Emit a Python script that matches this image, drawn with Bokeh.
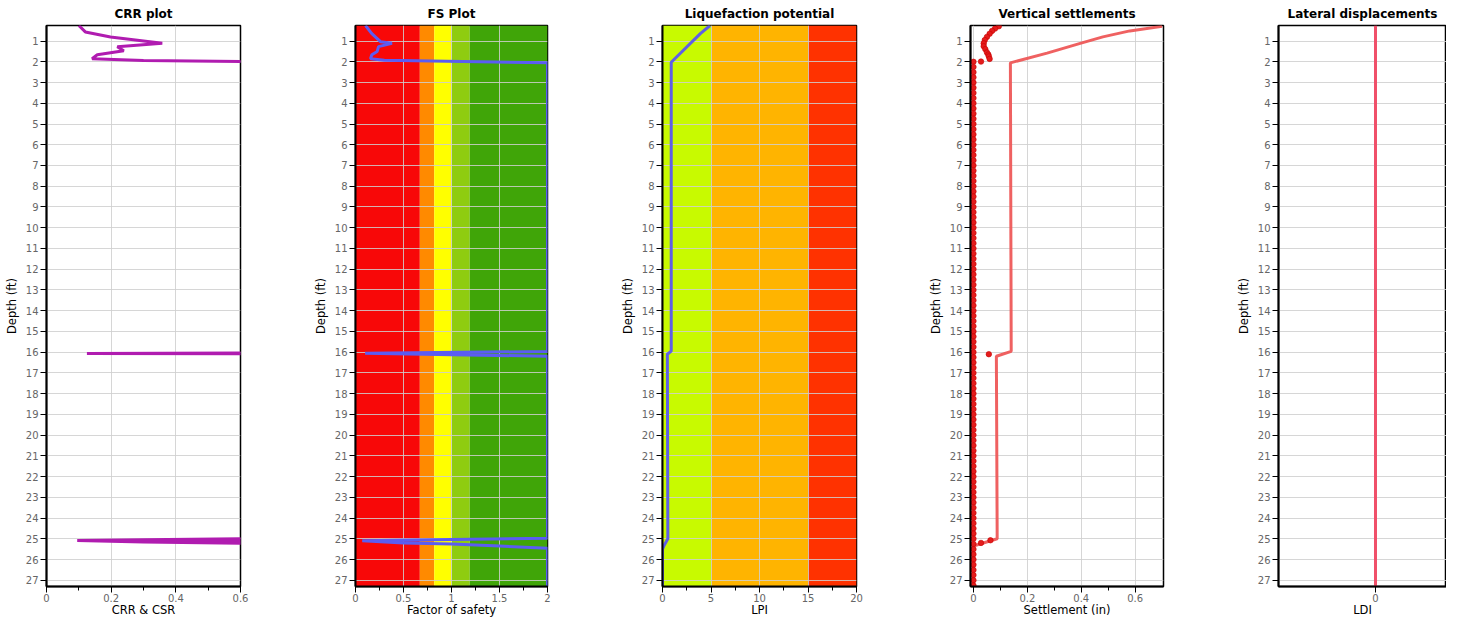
from bokeh.plotting import figure
from bokeh.layouts import row
from bokeh.models import Range1d, FixedTicker, CustomJSTickFormatter
from bokeh.embed import file_html
from bokeh.resources import INLINE

# ---------------- data ----------------
depth_ticks = list(range(1, 28))
depth_top = 0.25
depth_bottom = 27.3

# CRR plot
crr_depth = [0.25, 0.56, 0.80, 1.11, 1.27, 1.47, 1.66, 1.85, 1.94, 1.98, 2.05,
             15.98, 16.06, 16.12,
             24.98, 25.0, 25.04, 25.08, 25.15, 25.22, 25.27, 25.14, 25.1, 25.3, 27.3]
crr_value = [0.10, 0.12, 0.198, 0.358, 0.219, 0.239, 0.157, 0.141, 0.3, 0.6, 2.0,
             2.0, 0.125, 2.0,
             2.0, 0.6, 0.3, 0.095, 0.3, 0.6, 2.0, 0.35, 2.0, 2.0, 2.0]

# FS plot
fs_depth = [0.25, 0.64, 1.03, 1.11, 1.27, 1.5, 1.66, 1.85, 1.92, 2.05,
            15.97, 16.05, 16.2,
            24.97, 25.03, 25.1, 25.2, 25.25, 25.35, 25.46, 27.3]
fs_value = [0.104, 0.17, 0.26, 0.38, 0.24, 0.226, 0.17, 0.156, 0.3, 2.0,
            2.0, 0.1, 2.0,
            2.0, 1.0, 0.07, 0.5, 1.0, 1.5, 2.0, 2.0]
fs_zone_lo = [0.0, 0.67, 0.82, 1.0, 1.19]
fs_zone_hi = [0.67, 0.82, 1.0, 1.19, 2.0]
fs_zone_color = ["#f80808", "#ff8a00", "#ffff00", "#8fcc10", "#40a508"]

# Liquefaction potential
lpi_depth = [0.25, 0.64, 2.02, 15.95, 16.1, 25.0, 25.33, 25.5, 27.3]
lpi_value = [4.9, 3.9, 0.9, 0.9, 0.5, 0.55, 0.15, 0.0, 0.0]
lpi_zone_lo = [0, 5, 15]
lpi_zone_hi = [5, 15, 20]
lpi_zone_color = ["#c8fa00", "#ffb400", "#ff3200"]

# Vertical settlements (cumulative line)
set_depth = [0.29, 0.51, 0.8, 1.11, 1.58, 2.05, 15.96, 16.2, 25.0, 25.35, 27.3]
set_value = [0.70, 0.58, 0.48, 0.396, 0.273, 0.137, 0.14, 0.085, 0.088, 0.0, 0.0]

# Vertical settlements (per-layer points)
pt_depth = [0.29, 0.4, 0.51, 0.65, 0.8, 0.95, 1.11, 1.25, 1.39, 1.55, 1.65, 1.74, 1.86, 1.99,
            2.0, 2.25, 2.5, 2.75, 3.0, 3.25, 3.5, 3.75, 4.0, 4.25, 4.5, 4.75,
            5.0, 5.25, 5.5, 5.75, 6.0, 6.25, 6.5, 6.75, 7.0, 7.25, 7.5, 7.75,
            8.0, 8.25, 8.5, 8.75, 9.0, 9.25, 9.5, 9.75, 10.0, 10.25, 10.5, 10.75,
            11.0, 11.25, 11.5, 11.75, 12.0, 12.25, 12.5, 12.75, 13.0, 13.25, 13.5, 13.75,
            14.0, 14.25, 14.5, 14.75, 15.0, 15.25, 15.5, 15.75, 16.0, 16.1, 16.25, 16.5, 16.75,
            17.0, 17.25, 17.5, 17.75, 18.0, 18.25, 18.5, 18.75, 19.0, 19.25, 19.5, 19.75,
            20.0, 20.25, 20.5, 20.75, 21.0, 21.25, 21.5, 21.75, 22.0, 22.25, 22.5, 22.75,
            23.0, 23.25, 23.5, 23.75, 24.0, 24.25, 24.5, 24.75, 25.0, 25.07, 25.2, 25.25, 25.5, 25.75,
            26.0, 26.25, 26.5, 26.75, 27.0, 27.25]
pt_value = [0.094, 0.08, 0.069, 0.06, 0.05, 0.042, 0.038, 0.038, 0.044, 0.05, 0.055, 0.057, 0.06, 0.028,
            0.0, 0.0, 0.0, 0.0, 0.0, 0.0, 0.0, 0.0, 0.0, 0.0, 0.0, 0.0,
            0.0, 0.0, 0.0, 0.0, 0.0, 0.0, 0.0, 0.0, 0.0, 0.0, 0.0, 0.0,
            0.0, 0.0, 0.0, 0.0, 0.0, 0.0, 0.0, 0.0, 0.0, 0.0, 0.0, 0.0,
            0.0, 0.0, 0.0, 0.0, 0.0, 0.0, 0.0, 0.0, 0.0, 0.0, 0.0, 0.0,
            0.0, 0.0, 0.0, 0.0, 0.0, 0.0, 0.0, 0.0, 0.0, 0.057, 0.0, 0.0, 0.0,
            0.0, 0.0, 0.0, 0.0, 0.0, 0.0, 0.0, 0.0, 0.0, 0.0, 0.0, 0.0,
            0.0, 0.0, 0.0, 0.0, 0.0, 0.0, 0.0, 0.0, 0.0, 0.0, 0.0, 0.0,
            0.0, 0.0, 0.0, 0.0, 0.0, 0.0, 0.0, 0.0, 0.0, 0.063, 0.028, 0.0, 0.0, 0.0,
            0.0, 0.0, 0.0, 0.0, 0.0, 0.0]

# Lateral displacements
ldi_depth = [0.25, 27.3]
ldi_value = [0.0, 0.0]

FONT = "DejaVu Sans"
fmt = CustomJSTickFormatter(code="return String(Math.round(tick*100)/100);")


def base_fig(title, xlabel, x_start, x_end, ticks, minor, width, border_right, xgrid=True):
    p = figure(width=width, height=619, title=title,
               x_range=Range1d(x_start, x_end),
               y_range=Range1d(depth_bottom, depth_top),
               output_backend="svg", toolbar_location=None,
               min_border_left=46, min_border_right=border_right,
               min_border_top=0, min_border_bottom=0)
    p.title.align = "center"
    p.title.text_font = FONT
    p.title.text_font_size = "12px"
    p.title.text_font_style = "bold"
    p.title.text_color = "black"
    p.title.standoff = 9
    p.outline_line_color = "black"
    p.outline_line_width = 1.5
    p.outline_line_alpha = 1.0
    p.background_fill_color = "white"
    p.border_fill_color = "white"
    for ax in (p.xaxis[0], p.yaxis[0]):
        ax.axis_line_color = "black"
        ax.axis_line_width = 2
        ax.major_tick_line_color = "black"
        ax.minor_tick_line_color = "black"
        ax.major_tick_in = 0
        ax.major_tick_out = 6
        ax.minor_tick_in = 0
        ax.minor_tick_out = 4
        ax.major_label_text_font = FONT
        ax.major_label_text_font_size = "10px"
        ax.major_label_text_color = "#666666"
        ax.axis_label_text_font = FONT
        ax.axis_label_text_font_size = "11.5px"
        ax.axis_label_text_font_style = "normal"
        ax.axis_label_text_color = "black"
    p.yaxis.major_label_standoff = 2
    p.yaxis.axis_label_standoff = 4
    p.xaxis.major_label_standoff = 1
    p.xaxis.axis_label_standoff = -2
    p.yaxis.axis_label = "Depth (ft)"
    p.yaxis.ticker = FixedTicker(ticks=depth_ticks)
    p.xaxis.axis_label = xlabel
    p.xaxis.ticker = FixedTicker(ticks=ticks, minor_ticks=minor)
    p.xaxis.formatter = fmt
    p.grid.grid_line_color = "#cfcfcf"
    p.grid.grid_line_alpha = 0.85
    p.grid.grid_line_width = 1
    p.xgrid.visible = xgrid
    return p


# CRR plot
p1 = base_fig("CRR plot", "CRR & CSR", 0, 0.6, [0, 0.2, 0.4, 0.6], [0.1, 0.3, 0.5], 309, 69)
p1.line(crr_value, crr_depth, line_color="#b01cb0", line_width=3)

# FS plot
p2 = base_fig("FS Plot", "Factor of safety", 0, 2, [0, 0.5, 1, 1.5, 2], [0.25, 0.75, 1.25, 1.75], 307, 69)
p2.quad(left=fs_zone_lo, right=fs_zone_hi, top=depth_top, bottom=depth_bottom,
        fill_color=fs_zone_color, line_color=None, level="image")
p2.line(fs_value, fs_depth, line_color="#5b5cf2", line_width=3)

# Liquefaction potential
p3 = base_fig("Liquefaction potential", "LPI", 0, 20, [0, 5, 10, 15, 20], [2.5, 7.5, 12.5, 17.5], 308, 68)
p3.quad(left=lpi_zone_lo, right=lpi_zone_hi, top=depth_top, bottom=depth_bottom,
        fill_color=lpi_zone_color, line_color=None, level="image")
p3.line(lpi_value, lpi_depth, line_color="#5f5fe6", line_width=3)

# Vertical settlements
p4 = base_fig("Vertical settlements", "Settlement (in)", -0.011, 0.705, [0, 0.2, 0.4, 0.6], [0.1, 0.3, 0.5], 308, 69)
p4.line(set_value, set_depth, line_color="#ee5858", line_width=3, line_alpha=0.95)
p4.scatter(pt_value, pt_depth, size=5.5, fill_color="#e41c1c", line_color="#c80000", line_width=0.6)

# Lateral displacements
p5 = base_fig("Lateral displacements", "LDI", -1, 0.732, [0], [], 214, 0, xgrid=False)
p5.line(ldi_value, ldi_depth, line_color="#f0506a", line_width=3)

layout = row(p1, p2, p3, p4, p5)
open("out.html", "w").write(file_html(layout, INLINE))
